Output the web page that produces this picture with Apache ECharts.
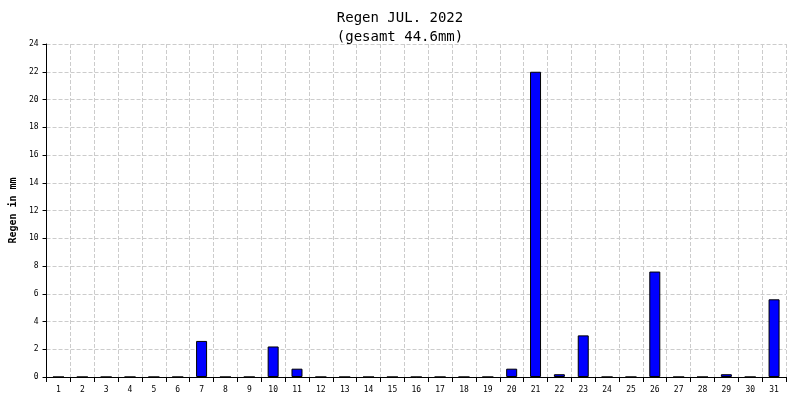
<!DOCTYPE html><html><head><meta charset="utf-8"><script src="https://cdn.jsdelivr.net/npm/echarts@6/dist/echarts.min.js"></script></head><body style="margin:0"><div id="c" style="width:800px;height:400px"></div><script>
const days=Array.from({length:31},(_,i)=>String(i+1));
const rain=[0,0,0,0,0,0,2.6,0,0,2.2,0.6,0,0,0,0,0,0,0,0,0.6,22,0.2,3.0,0,0,7.6,0,0,0.2,0,5.6];
const title='Regen JUL. 2022';
const subtitle='(gesamt 44.6mm)';
const yName='Regen in mm';
const ch=echarts.init(document.getElementById('c'));
const f='DejaVu Sans Mono';
ch.setOption({animation:false,backgroundColor:'#fff',
title:{text:title+'\n'+subtitle,left:'center',top:4,textStyle:{fontFamily:f,fontSize:14,fontWeight:'normal',color:'#000',lineHeight:19}},
grid:{left:43,right:14,top:44,bottom:23},
xAxis:{type:'category',data:days,boundaryGap:true,axisLine:{lineStyle:{color:'#000'}},axisTick:{show:true,length:5,lineStyle:{color:'#000'}},axisLabel:{fontFamily:f,fontSize:8,color:'#000',margin:9},splitLine:{show:true,lineStyle:{type:'dashed',color:'#ccc'}}},
yAxis:{type:'value',min:0,max:24,interval:2,name:yName,nameLocation:'middle',nameGap:26,nameTextStyle:{fontFamily:f,fontSize:10,fontWeight:'bold',color:'#000'},axisLine:{show:true,lineStyle:{color:'#000'}},axisTick:{show:true,length:4,lineStyle:{color:'#000'}},axisLabel:{fontFamily:f,fontSize:8,color:'#000'},splitLine:{lineStyle:{type:'dashed',color:'#ccc'}}},
series:[{type:'bar',data:rain,barWidth:11,itemStyle:{color:'#0000ff',borderColor:'#000',borderWidth:1}}]});
</script></body></html>
